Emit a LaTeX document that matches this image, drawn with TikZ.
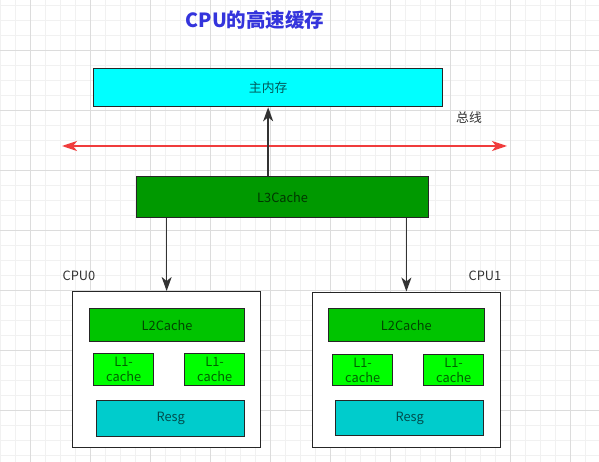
\documentclass[tikz,border=0pt]{standalone}
\usepackage{fontspec}
\setmainfont{Noto Sans CJK SC}
\usetikzlibrary{arrows.meta}
\definecolor{memfill}{HTML}{00FFFF}
\definecolor{lthree}{HTML}{009900}
\definecolor{ltwo}{HTML}{00C400}
\definecolor{lone}{HTML}{00FF00}
\definecolor{resgfill}{HTML}{00CCCC}
\definecolor{titleblue}{HTML}{3434DC}
\definecolor{busred}{HTML}{F03C3C}
\definecolor{gridminor}{HTML}{F1F1F1}
\definecolor{gridmajor}{HTML}{DCDCDC}
\definecolor{txt}{HTML}{333333}
\tikzset{
  box/.style={draw=black!85, line width=1.3pt, anchor=north west, inner sep=0pt, align=center, font=\fontsize{12.8}{15}\selectfont},
  memstyle/.style={box, fill=memfill, text=memfill!35!black},
  l3style/.style={box, fill=lthree, text=lthree!35!black},
  l2style/.style={box, fill=ltwo, text=ltwo!35!black},
  l1style/.style={box, fill=lone, text=lone!38!black},
  resgstyle/.style={box, fill=resgfill, text=resgfill!38!black},
  cpustyle/.style={box, fill=white},
  lbl/.style={text=txt, font=\fontsize{12.8}{15}\selectfont, inner sep=0pt},
  arr/.style={draw=black!80, line width=1.5pt, -{Stealth[length=14pt,width=10pt,inset=4pt]}},
  bus/.style={draw=busred, line width=1.5pt, {Stealth[length=15pt,width=10pt,inset=4pt]}-{Stealth[length=15pt,width=10pt,inset=4pt]}},
}
\begin{document}
\begin{tikzpicture}[x=1pt,y=-1pt]
\useasboundingbox (0,0) rectangle (599,462);
\fill[white] (0,0) rectangle (599,462);
% grid
\foreach \i in {0,...,40} { \draw[gridminor, line width=0.6pt] (\i*15,0) -- (\i*15,462); }
\foreach \j in {0,...,30} { \draw[gridminor, line width=0.6pt] (0,5.7+\j*15) -- (599,5.7+\j*15); }
\foreach \i in {0,...,9} { \draw[gridmajor, line width=0.7pt] (30+\i*60,0) -- (30+\i*60,462); }
\foreach \j in {0,...,7} { \draw[gridmajor, line width=0.7pt] (0,50.7+\j*60) -- (599,50.7+\j*60); }
% title
\node[text=titleblue, font=\fontsize{19.5}{22}\selectfont\bfseries, inner sep=0pt] (title) at (255,20) {CPU的高速缓存};
% main memory and L3
\node[memstyle, minimum width=349pt, minimum height=38pt] (mem) at (93,68) {主内存};
\node[l3style, minimum width=292pt, minimum height=41pt] (l3) at (136,176) {L3Cache};
% bus
\coordinate (busL) at (62,146);
\coordinate (busR) at (507,146);
\draw[bus] (busL) -- (busR);
\node[lbl] (buslbl) at (469,118) {总线};
% CPU0
\node[cpustyle, minimum width=188pt, minimum height=156pt] (cpu0) at (72,291) {};
\node[lbl] (cpu0lbl) at (79,276) {CPU0};
\node[l2style, minimum width=155pt, minimum height=33pt] (l2a) at (89,308) {L2Cache};
\node[l1style, minimum width=60pt, minimum height=32pt] (l1aa) at (93,353) {L1-\\cache};
\node[l1style, minimum width=60pt, minimum height=32pt] (l1ab) at (184,353) {L1-\\cache};
\node[resgstyle, minimum width=148pt, minimum height=36pt] (resga) at (96,399.5) {Resg};
% CPU1
\node[cpustyle, minimum width=187.5pt, minimum height=155pt] (cpu1) at (312,291.5) {};
\node[lbl] (cpu1lbl) at (485,276) {CPU1};
\node[l2style, minimum width=155.5pt, minimum height=33pt] (l2b) at (328,308) {L2Cache};
\node[l1style, minimum width=60pt, minimum height=31pt] (l1ba) at (332,354) {L1-\\cache};
\node[l1style, minimum width=60pt, minimum height=31pt] (l1bb) at (423,354) {L1-\\cache};
\node[resgstyle, minimum width=148pt, minimum height=35pt] (resgb) at (335,400) {Resg};
% arrows
\draw[arr] (l3.north -| mem.south) -- (mem.south);
\draw[arr] (l3.south -| cpu0.north) -- (cpu0.north);
\draw[arr] (l3.south -| cpu1.north) -- (cpu1.north);
\end{tikzpicture}
\end{document}
